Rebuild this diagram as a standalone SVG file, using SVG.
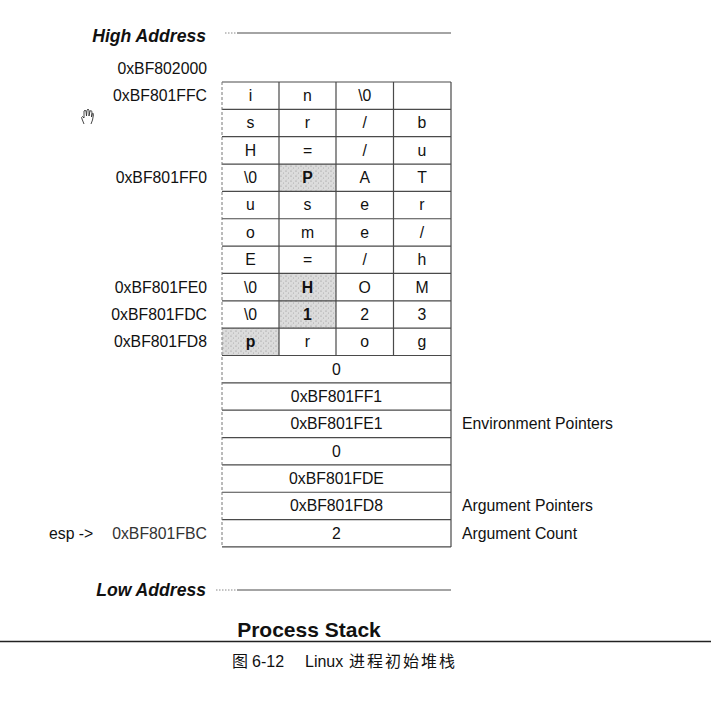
<svg xmlns="http://www.w3.org/2000/svg" width="711" height="708" viewBox="0 0 711 708">
<style>
.t{font-family:"Liberation Sans",Arial,sans-serif;font-size:15.8px;fill:#111;text-anchor:middle}
.b{font-weight:bold}
.l{font-family:"Liberation Sans",Arial,sans-serif;font-size:15.8px;fill:#111;text-anchor:end}
.r{font-family:"Liberation Sans",Arial,sans-serif;font-size:15.8px;fill:#111;text-anchor:start}
.hd{font-family:"Liberation Sans",Arial,sans-serif;font-size:17.6px;font-weight:bold;font-style:italic;fill:#111;text-anchor:end}
.cap{font-family:"Liberation Sans","Noto Sans CJK SC",sans-serif;font-size:16px;fill:#111}
.grid{stroke:#4a4a4a;stroke-width:1.2;fill:none}
.dash{stroke:#777;stroke-width:1;stroke-dasharray:3 2;fill:none}
.dot{stroke:#888;stroke-width:1;stroke-dasharray:1.5 1.5;fill:none}
</style>
<defs>
<pattern id="stip" width="5" height="5" patternUnits="userSpaceOnUse">
<rect width="5" height="5" fill="#dcdcdc"/>
<circle cx="1" cy="1" r="0.6" fill="#8a8a8a"/>
<circle cx="3.5" cy="3" r="0.5" fill="#a0a0a0"/>
<circle cx="2" cy="4.2" r="0.4" fill="#b5b5b5"/>
</pattern>
</defs>
<rect width="711" height="708" fill="#fff"/>

<g id="shaded">
<rect x="279" y="164" width="57" height="27.4" fill="url(#stip)"/>
<rect x="279" y="273.5" width="57" height="54.7" fill="url(#stip)"/>
<rect x="222" y="328.2" width="57" height="27.3" fill="url(#stip)"/>
</g>

<g id="connectors">
<line class="dot" x1="225" y1="33" x2="237" y2="33"/>
<line class="grid" x1="237" y1="33" x2="451" y2="33"/>
<line class="dot" x1="216" y1="590" x2="237" y2="590"/>
<line class="grid" x1="237" y1="590" x2="451" y2="590"/>
<path class="grid" d="M222,82H451M222,109.35H451M222,136.7H451M222,164.05H451M222,191.4H451M222,218.75H451M222,246.1H451M222,273.45H451M222,300.8H451M222,328.15H451M222,355.5H451M222,382.85H451M222,410.2H451M222,437.55H451M222,464.9H451M222,492.25H451M222,519.6H451M222,546.95H451"/>
<path class="grid" d="M279,82V355.5M336,82V355.5M393.5,82V355.5M451,82V546.95"/>
<line class="dash" x1="222" y1="82" x2="222" y2="546.95"/>
</g>

<g id="hand" fill="none" stroke="#333" stroke-width="0.9">
<path d="M84,124 L82,119 Q81,117 82.5,116.5 L84,118 L84,111 Q85,109.5 86,111 L86.5,116 L87,110 Q88,108.5 89,110 L89,116 L90,111 Q91,110 92,111.5 L91.5,117 L92.5,113.5 Q93.5,113 93.5,114.5 L92.5,120 L91,124"/>
</g>

<g id="high-address">
<text class="hd" x="206" y="42">High Address</text>
<text class="l" x="207" y="74">0xBF802000</text>
</g>

<g id="row1"><text class="l" x="207" y="101">0xBF801FFC</text>
<text class="t" x="250.5" y="101">i</text><text class="t" x="307.5" y="101">n</text><text class="t" x="364.75" y="101">\0</text></g>
<g id="row2"><text class="t" x="250.5" y="128.4">s</text><text class="t" x="307.5" y="128.4">r</text><text class="t" x="364.75" y="128.4">/</text><text class="t" x="422" y="128.4">b</text></g>
<g id="row3"><text class="t" x="250.5" y="155.7">H</text><text class="t" x="307.5" y="155.7">=</text><text class="t" x="364.75" y="155.7">/</text><text class="t" x="422" y="155.7">u</text></g>
<g id="row4"><text class="l" x="207" y="183">0xBF801FF0</text>
<text class="t" x="250.5" y="183">\0</text><text class="t b" x="307.5" y="183">P</text><text class="t" x="364.75" y="183">A</text><text class="t" x="422" y="183">T</text></g>
<g id="row5"><text class="t" x="250.5" y="210.4">u</text><text class="t" x="307.5" y="210.4">s</text><text class="t" x="364.75" y="210.4">e</text><text class="t" x="422" y="210.4">r</text></g>
<g id="row6"><text class="t" x="250.5" y="237.7">o</text><text class="t" x="307.5" y="237.7">m</text><text class="t" x="364.75" y="237.7">e</text><text class="t" x="422" y="237.7">/</text></g>
<g id="row7"><text class="t" x="250.5" y="265.1">E</text><text class="t" x="307.5" y="265.1">=</text><text class="t" x="364.75" y="265.1">/</text><text class="t" x="422" y="265.1">h</text></g>
<g id="row8"><text class="l" x="207" y="292.5">0xBF801FE0</text>
<text class="t" x="250.5" y="292.5">\0</text><text class="t b" x="307.5" y="292.5">H</text><text class="t" x="364.75" y="292.5">O</text><text class="t" x="422" y="292.5">M</text></g>
<g id="row9"><text class="l" x="207" y="319.8">0xBF801FDC</text>
<text class="t" x="250.5" y="319.8">\0</text><text class="t b" x="307.5" y="319.8">1</text><text class="t" x="364.75" y="319.8">2</text><text class="t" x="422" y="319.8">3</text></g>
<g id="row10"><text class="l" x="207" y="347.2">0xBF801FD8</text>
<text class="t b" x="250.5" y="347.2">p</text><text class="t" x="307.5" y="347.2">r</text><text class="t" x="364.75" y="347.2">o</text><text class="t" x="422" y="347.2">g</text></g>
<g id="row11"><text class="t" x="336.5" y="374.5">0</text></g>
<g id="row12"><text class="t" x="336.5" y="401.9">0xBF801FF1</text></g>
<g id="row13"><text class="t" x="336.5" y="429.2">0xBF801FE1</text><text class="r" x="462" y="429.2">Environment Pointers</text></g>
<g id="row14"><text class="t" x="336.5" y="456.6">0</text></g>
<g id="row15"><text class="t" x="336.5" y="483.9">0xBF801FDE</text></g>
<g id="row16"><text class="t" x="336.5" y="511.3">0xBF801FD8</text><text class="r" x="462" y="511.3">Argument Pointers</text></g>
<g id="row17"><text class="r" x="49" y="538.6">esp -&gt;</text><text class="l" x="207" y="538.6" style="fill:#333">0xBF801FBC</text>
<text class="t" x="336.5" y="538.6">2</text><text class="r" x="462" y="538.6">Argument Count</text></g>

<g id="low-address"><text class="hd" x="206" y="596">Low Address</text></g>

<g id="title"><text x="309" y="636.5" style="font-family:'Liberation Sans',Arial,sans-serif;font-size:21px;font-weight:bold;fill:#111;text-anchor:middle">Process Stack</text></g>
<line x1="0" y1="641.5" x2="711" y2="641.5" stroke="#222" stroke-width="1.6"/>
<g id="caption"><text class="cap" y="667"><tspan x="232">图</tspan><tspan x="252">6-12</tspan><tspan x="305">Linux</tspan><tspan x="349" letter-spacing="2">进程初始堆栈</tspan></text></g>
</svg>
